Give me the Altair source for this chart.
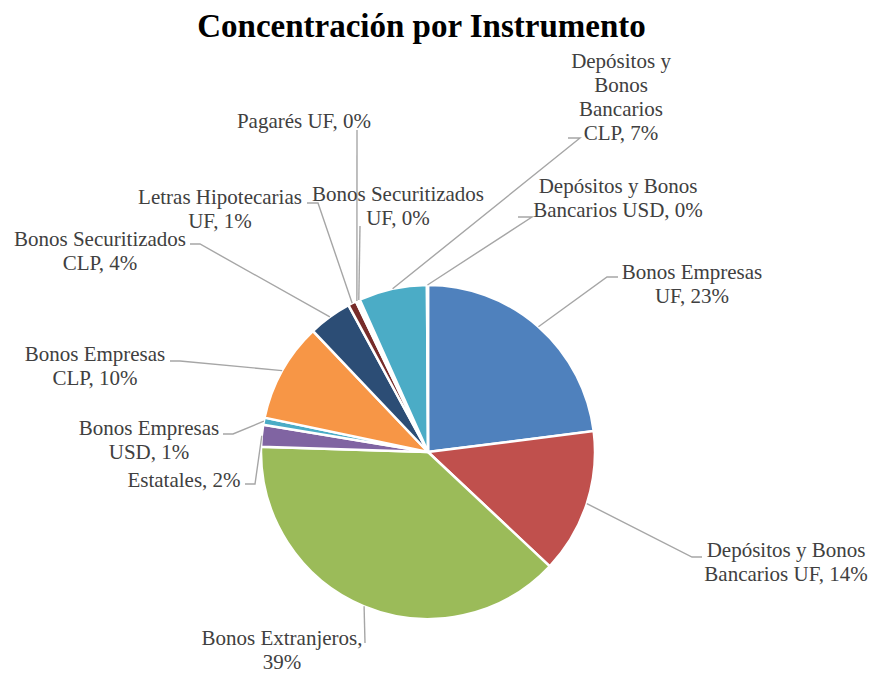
import math
import altair as alt
import pandas as pd

# ---------------- data ----------------
categories = [
    "Bonos Empresas UF",
    "Depósitos y Bonos Bancarios UF",
    "Bonos Extranjeros",
    "Estatales",
    "Bonos Empresas USD",
    "Bonos Empresas CLP",
    "Bonos Securitizados CLP",
    "Letras Hipotecarias UF",
    "Pagarés UF",
    "Bonos Securitizados UF",
    "Depósitos y Bonos Bancarios CLP",
    "Depósitos y Bonos Bancarios USD",
]
shares = [23.0, 14.0, 38.5, 2.1, 0.7, 9.6, 4.2, 0.8, 0.2, 0.2, 6.6, 0.1]
labels = [
    "Bonos Empresas\nUF, 23%",
    "Depósitos y Bonos\nBancarios UF, 14%",
    "Bonos Extranjeros,\n39%",
    "Estatales, 2%",
    "Bonos Empresas\nUSD, 1%",
    "Bonos Empresas\nCLP, 10%",
    "Bonos Securitizados\nCLP, 4%",
    "Letras Hipotecarias\nUF, 1%",
    "Pagarés UF, 0%",
    "Bonos Securitizados\nUF, 0%",
    "Depósitos y\nBonos\nBancarios\nCLP, 7%",
    "Depósitos y Bonos\nBancarios USD, 0%",
]
colors = [
    "#4F81BD", "#C0504D", "#9BBB59", "#8064A2", "#4BACC6", "#F79646",
    "#2C4D75", "#772C2A", "#4D3B62", "#5F7530", "#4BACC6", "#B65708",
]

# ---------------- layout (page pixels) ----------------
W, H_TOTAL = 863, 667
PAD_TOP = 50
OX, OY = 8, 8 + PAD_TOP
CX, CY, R = 428, 452, 167

# position of first text line (centre x, middle y)
label_xy = [(692, 273), (786, 551), (282, 639), (184, 481), (149, 429), (95, 355),
            (100, 240), (220, 198), (304, 122), (398, 195), (621, 62), (618, 187)]
elbow_xy = [(607, 277), (692, 557), (365, 643), (255, 484), (233, 434), (180, 361),
            (200, 244), (318, 203), (357, 130), (360, 226), (580, 138), (532, 217)]
tail_xy = [(618, 277), (702, 557), (365, 643), (245, 484), (223, 434), (170, 361),
           (190, 244), (307, 203), (357, 130), (360, 226), (568, 138), (518, 217)]

# ---------------- tables ----------------
df = pd.DataFrame({"cat": categories, "share": shares, "idx": range(len(categories))})

total = sum(shares)
line_rows, text_rows = [], []
cum = 0.0
for i, (c, v) in enumerate(zip(categories, shares)):
    mid = 2 * math.pi * (cum + v / 2) / total
    cum += v
    sx = CX + R * math.sin(mid)
    sy = CY - R * math.cos(mid)
    for k, (px, py) in enumerate([(sx, sy), elbow_xy[i], tail_xy[i]]):
        line_rows.append({"cat": c, "seq": k, "x": px - OX, "y": py - OY})
    text_rows.append({"cat": c, "label": labels[i],
                      "x": label_xy[i][0] - OX, "y": label_xy[i][1] - OY})
lines_df = pd.DataFrame(line_rows)
text_df = pd.DataFrame(text_rows)

arcs = alt.Chart(df).mark_arc(outerRadius=R, stroke="white", strokeWidth=2.5).encode(
    theta=alt.Theta("share:Q", stack=True),
    order=alt.Order("idx:Q"),
    color=alt.Color("cat:N", scale=alt.Scale(domain=categories, range=colors), legend=None),
    x=alt.value(CX - OX),
    y=alt.value(CY - OY),
)

leaders = alt.Chart(lines_df).mark_line(color="#A6A6A6", strokeWidth=1.4).encode(
    x=alt.X("x:Q", scale=None),
    y=alt.Y("y:Q", scale=None),
    detail="cat:N",
    order="seq:Q",
)

texts = alt.Chart(text_df).mark_text(
    align="center", baseline="middle", font="Liberation Serif", fontSize=21,
    lineHeight=24, color="#404040", lineBreak="\n",
).encode(
    x=alt.X("x:Q", scale=None),
    y=alt.Y("y:Q", scale=None),
    text="label:N",
)

chart = alt.layer(arcs, leaders, texts).properties(
    width=W,
    height=H_TOTAL - PAD_TOP,
    padding={"left": 0, "top": PAD_TOP, "right": 0, "bottom": 0},
    autosize=alt.AutoSizeParams(type="none"),
    title=alt.TitleParams(
        "Concentración por Instrumento", font="Liberation Serif", fontSize=33,
        fontWeight="bold", color="black", anchor="middle", dx=-18, offset=7,
    ),
).configure_view(stroke=None)

chart.save("out.html", embed_options={"renderer": "svg", "actions": False})
